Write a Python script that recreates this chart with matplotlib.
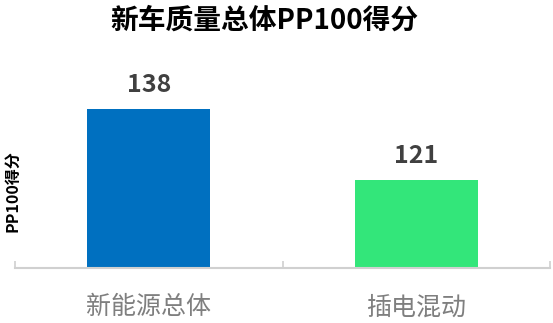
import matplotlib.pyplot as plt
import numpy as np

plt.rcParams['font.family'] = ['Noto Sans CJK SC', 'DejaVu Sans']

categories = ['新能源总体', '插电混动']
scores = [138, 121]
colors = ['#0070C0', '#33E67A']


def main():
    fig = plt.figure(figsize=(5.53, 3.23), dpi=100)
    ax = fig.add_axes([0.027, 0.170, 0.968, 0.582])

    x = np.arange(len(categories))
    ax.bar(x, scores, width=0.46, color=colors, bottom=0)
    for xi, v in zip(x, scores):
        ax.text(xi, v + 3.0, str(v), ha='center', va='bottom',
                fontsize=18, fontweight='bold', color='#404040')

    ax.set_xlim(-0.5, len(categories) - 0.5)
    ax.set_ylim(100, 145)
    ax.set_yticks([])
    ax.set_xticks(x)
    ax.set_xticklabels(categories, fontsize=18, color='#7f7f7f')
    ax.set_xticks(np.arange(len(categories) + 1) - 0.5, minor=True)
    ax.tick_params(axis='x', which='major', length=0, pad=19)
    ax.tick_params(axis='x', which='minor', direction='in', length=5,
                   color='#d0d0d0', width=1.2)
    for side in ['top', 'left', 'right']:
        ax.spines[side].set_visible(False)
    ax.spines['bottom'].set_color('#d0d0d0')
    ax.spines['bottom'].set_linewidth(1.5)

    fig.text(0.478, 0.935, '新车质量总体PP100得分', ha='center', va='center',
             fontsize=20, fontweight='bold', color='#000000')
    fig.text(0.022, 0.41, 'PP100得分', rotation=90, ha='center', va='center',
             fontsize=11.5, fontweight='bold', color='#000000')

    fig.savefig('out.png', dpi=100)


if __name__ == "__main__":
    main()
